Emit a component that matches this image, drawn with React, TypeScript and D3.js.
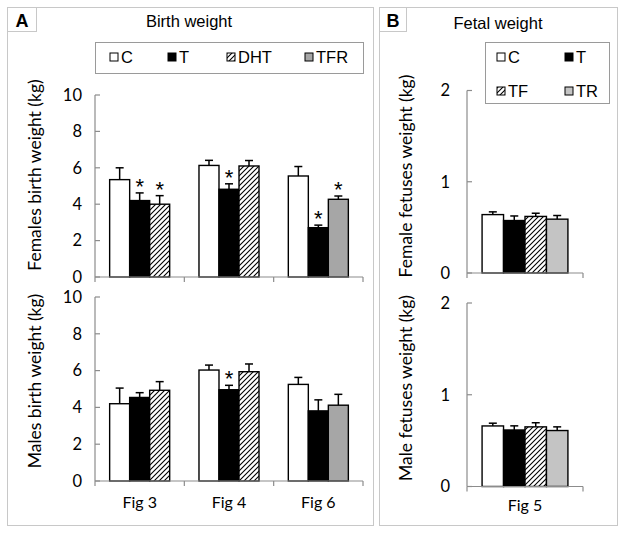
import React from "react";
import * as d3 from "d3";

// ---- Data ----
const groupsA = ["Fig 3", "Fig 4", "Fig 6"];
const thirdSeriesA = ["DHT", "DHT", "TFR"];
const seriesA = ["C", "T", "X"];

const femaleC = [5.35, 6.13, 5.55];
const femaleT = [4.2, 4.82, 2.71];
const femaleX = [4.0, 6.1, 4.27];
const femaleCErr = [0.65, 0.28, 0.52];
const femaleTErr = [0.42, 0.3, 0.14];
const femaleXErr = [0.47, 0.3, 0.18];
const femaleSig = [[false, true, true], [false, true, false], [false, true, true]];

const maleC = [4.2, 6.03, 5.25];
const maleT = [4.54, 4.96, 3.81];
const maleX = [4.93, 5.94, 4.12];
const maleCErr = [0.85, 0.27, 0.38];
const maleTErr = [0.26, 0.24, 0.6];
const maleXErr = [0.47, 0.42, 0.59];
const maleSig = [[false, false, false], [false, true, false], [false, false, false]];

const groupsB = ["Fig 5"];
const seriesB = ["C", "T", "TF", "TR"];
const femaleB = [0.64, 0.575, 0.62, 0.59];
const femaleBErr = [0.03, 0.05, 0.035, 0.04];
const maleB = [0.66, 0.616, 0.65, 0.61];
const maleBErr = [0.03, 0.045, 0.045, 0.04];

const ticksA = [0, 2, 4, 6, 8, 10];
const ticksB = [0, 1, 2];

const legendA = ["C", "T", "DHT", "TFR"];
const legendB = ["C", "T", "TF", "TR"];

const fills: Record<string, string> = {
  C: "#ffffff",
  T: "#000000",
  DHT: "url(#hatch)",
  TF: "url(#hatch)",
  TFR: "#a6a6a6",
  TR: "#c4c4c4",
};

const AXIS = "#8c8c8c";
const FRAME = "#c8c8c8";
const tickFont = "Lato, 'Open Sans', sans-serif";
const arial = "'Liberation Sans', Arial, sans-serif";

type BarDatum = { group: string; key: string; fillKey: string; v: number; e: number; sig: boolean };

function BarChart(props: {
  groups: string[];
  data: BarDatum[];
  x0: number; x1: number; y0: number; y1: number;
  domainMax: number; ticks: number[];
  groupFrac: number;
  tickLabelGap: number;
  showX: boolean; xLabelY: number;
  ylabel: string; ylabelX: number; ylabelY: number;
}) {
  const p = props;
  const xb = d3.scaleBand<string>().domain(p.groups).range([p.x0, p.x1]).padding(0);
  const y = d3.scaleLinear().domain([0, p.domainMax]).range([p.y0, p.y1]);
  const gw = xb.bandwidth() * p.groupFrac;
  const keys = Array.from(new Set(p.data.map((d) => d.key)));
  const xi = d3.scaleBand<string>().domain(keys).range([0, gw]).padding(0);
  const bw = xi.bandwidth();
  const boundaries = [...p.groups.map((g) => xb(g) as number), p.x1];
  return (
    <g>
      <line x1={p.x0} x2={p.x0} y1={y(p.domainMax)} y2={y(0)} stroke={AXIS} strokeWidth={1.2} />
      {p.ticks.map((t) => (
        <g key={t}>
          <line x1={p.x0} x2={p.x0 + 5} y1={y(t)} y2={y(t)} stroke={AXIS} strokeWidth={1.2} />
          <text x={p.x0 - p.tickLabelGap} y={y(t)} dy="0.35em" textAnchor="end" fontFamily={tickFont} fontSize={16.5} fill="#000">
            {t}
          </text>
        </g>
      ))}
      {p.data.map((d, i) => {
        const cx = (xb(d.group) as number) + xb.bandwidth() / 2 - gw / 2 + (xi(d.key) as number);
        const top = y(d.v);
        const et = y(d.v + d.e);
        const mid = cx + bw / 2;
        return (
          <g key={i}>
            <line x1={mid} x2={mid} y1={top} y2={et} stroke="#000" strokeWidth={1.5} />
            <line x1={mid - 4} x2={mid + 4} y1={et} y2={et} stroke="#000" strokeWidth={1.5} />
            <rect x={cx} y={top} width={bw} height={y(0) - top} fill={fills[d.fillKey]} stroke="#000" strokeWidth={1.4} />
            {d.sig && (
              <text x={mid} y={et + 1} textAnchor="middle" fontFamily={arial} fontSize={22} fill="#000">
                *
              </text>
            )}
          </g>
        );
      })}
      <line x1={p.x0} x2={p.x1} y1={y(0)} y2={y(0)} stroke={AXIS} strokeWidth={1.2} />
      {boundaries.map((bx, i) => (
        <line key={i} x1={bx} x2={bx} y1={y(0)} y2={y(0) + 5} stroke={AXIS} strokeWidth={1.2} />
      ))}
      {p.showX &&
        p.groups.map((g) => (
          <text key={g} x={(xb(g) as number) + xb.bandwidth() / 2} y={p.xLabelY} textAnchor="middle" fontFamily={tickFont} fontSize={16} fill="#000">
            {g}
          </text>
        ))}
      <text
        transform={`translate(${p.ylabelX},${p.ylabelY}) rotate(-90)`}
        textAnchor="middle"
        fontFamily={tickFont}
        fontSize={17.5}
        fill="#000"
      >
        {p.ylabel}
      </text>
    </g>
  );
}

function LegendItem(props: { x: number; y: number; k: string }) {
  return (
    <g>
      <rect x={props.x} y={props.y - 10} width={8} height={8} fill={fills[props.k]} stroke="#000" strokeWidth={1} />
      <text x={props.x + 11} y={props.y} fontFamily={arial} fontSize={16.5} fill="#000">
        {props.k}
      </text>
    </g>
  );
}

export default function App() {
  const femaleVals = [femaleC, femaleT, femaleX];
  const femaleErrs = [femaleCErr, femaleTErr, femaleXErr];
  const maleVals = [maleC, maleT, maleX];
  const maleErrs = [maleCErr, maleTErr, maleXErr];

  const buildA = (vals: number[][], errs: number[][], sig: boolean[][]): BarDatum[] =>
    groupsA.flatMap((g, gi) =>
      seriesA.map((s, si) => ({
        group: g,
        key: s,
        fillKey: s === "X" ? thirdSeriesA[gi] : s,
        v: vals[si][gi],
        e: errs[si][gi],
        sig: sig[gi][si],
      }))
    );
  const buildB = (vals: number[], errs: number[]): BarDatum[] =>
    seriesB.map((s, si) => ({ group: groupsB[0], key: s, fillKey: s, v: vals[si], e: errs[si], sig: false }));

  const legAx = [110, 168, 227, 305];
  const legBx = [497, 565];

  return (
    <svg width={624} height={534} style={{ position: "absolute", left: 0, top: 0, background: "#fff" }}>
      <defs>
        <pattern id="hatch" patternUnits="userSpaceOnUse" width={5} height={5}>
          <rect width={5} height={5} fill="#fff" />
          <path d="M-1,1 l2,-2 M0,5 l5,-5 M4,6 l2,-2" stroke="#000" strokeWidth={1.1} />
        </pattern>
      </defs>
      <rect x={0} y={0} width={624} height={534} fill="#fff" />
      <rect x={7.5} y={7.5} width={366} height={518} fill="none" stroke={FRAME} strokeWidth={1} />
      <rect x={379.5} y={7.5} width={238} height={518} fill="none" stroke={FRAME} strokeWidth={1} />
      <rect x={7.5} y={7.5} width={29} height={24} fill="none" stroke={FRAME} strokeWidth={1} />
      <rect x={379.5} y={7.5} width={27} height={24} fill="none" stroke={FRAME} strokeWidth={1} />
      <text x={22} y={27} textAnchor="middle" fontFamily={arial} fontWeight="bold" fontSize={18} fill="#000">A</text>
      <text x={393} y={27} textAnchor="middle" fontFamily={arial} fontWeight="bold" fontSize={18} fill="#000">B</text>
      <text x={189} y={27} textAnchor="middle" fontFamily={arial} fontSize={16.5} fill="#000">Birth weight</text>
      <text x={498} y={29} textAnchor="middle" fontFamily={arial} fontSize={16.5} fill="#000">Fetal weight</text>

      <rect x={95.5} y={42.5} width={268} height={31} fill="#fff" stroke="#9a9a9a" strokeWidth={1} />
      {legendA.map((k, i) => (
        <LegendItem key={k} x={legAx[i]} y={63} k={k} />
      ))}
      <rect x={485.5} y={42.5} width={124} height={61} fill="#fff" stroke="#9a9a9a" strokeWidth={1} />
      {legendB.map((k, i) => (
        <LegendItem key={k} x={legBx[i % 2]} y={i < 2 ? 63 : 97} k={k} />
      ))}

      <BarChart
        groups={groupsA} data={buildA(femaleVals, femaleErrs, femaleSig)}
        x0={95} x1={363} y0={277} y1={95} domainMax={10} ticks={ticksA}
        groupFrac={0.672} tickLabelGap={13} showX={false} xLabelY={0}
        ylabel="Females birth weight (kg)" ylabelX={41} ylabelY={175}
      />
      <BarChart
        groups={groupsA} data={buildA(maleVals, maleErrs, maleSig)}
        x0={95} x1={363} y0={481} y1={297} domainMax={10} ticks={ticksA}
        groupFrac={0.672} tickLabelGap={13} showX={true} xLabelY={508}
        ylabel="Males birth weight (kg)" ylabelX={41} ylabelY={381}
      />
      <BarChart
        groups={groupsB} data={buildB(femaleB, femaleBErr)}
        x0={467} x1={583} y0={273} y1={90.5} domainMax={2} ticks={ticksB}
        groupFrac={0.74} tickLabelGap={17} showX={false} xLabelY={0}
        ylabel="Female fetuses weight (kg)" ylabelX={412} ylabelY={176}
      />
      <BarChart
        groups={groupsB} data={buildB(maleB, maleBErr)}
        x0={467} x1={583} y0={486.5} y1={303} domainMax={2} ticks={ticksB}
        groupFrac={0.74} tickLabelGap={17} showX={true} xLabelY={511}
        ylabel="Male fetuses weight (kg)" ylabelX={412} ylabelY={388}
      />
    </svg>
  );
}
